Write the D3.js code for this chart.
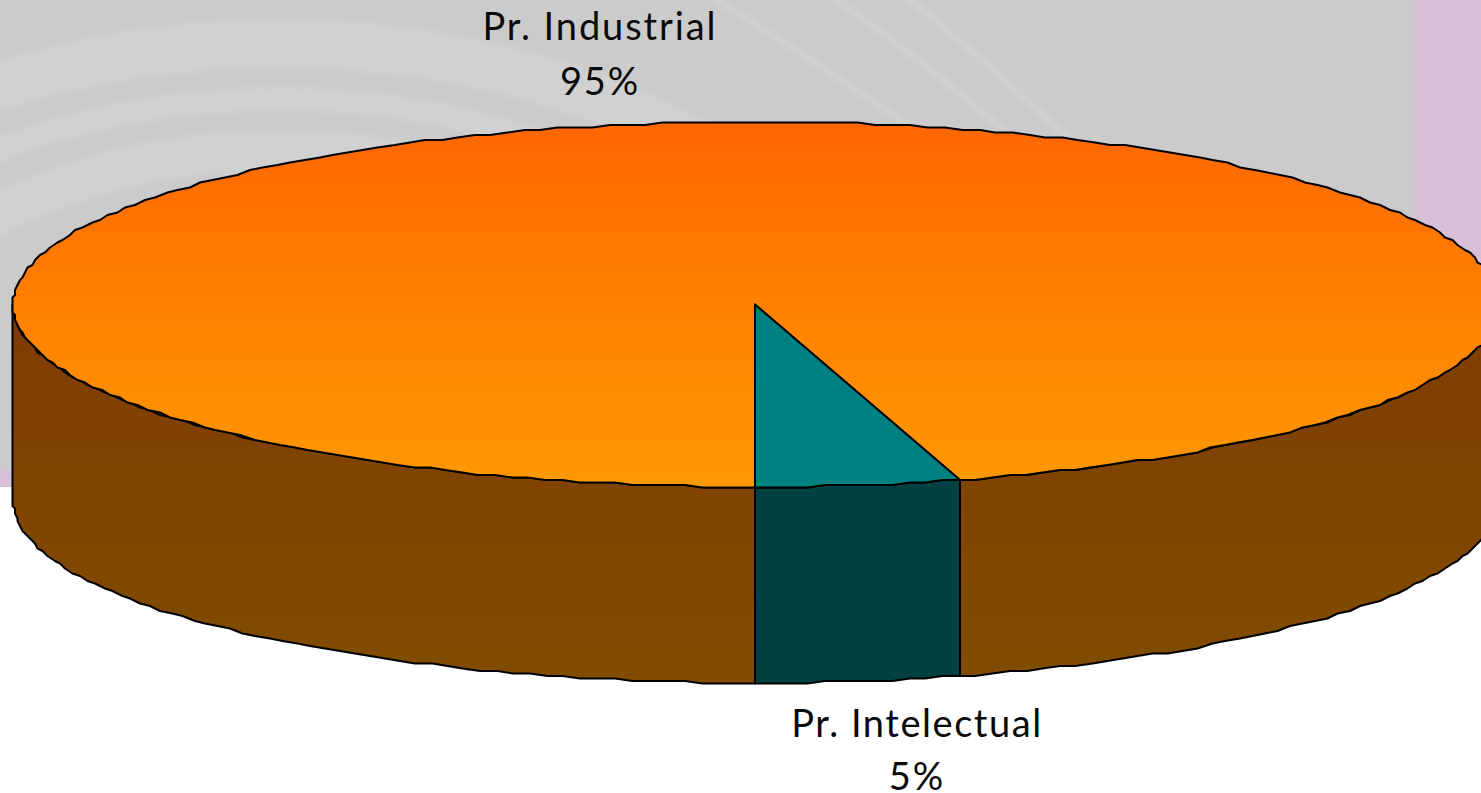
<!DOCTYPE html>
<html>
<head>
<meta charset="utf-8">
<script src="https://cdn.jsdelivr.net/npm/d3@7"></script>
<style>
  body { margin: 0; background: #fff; overflow: hidden; }
  svg { display: block; }
  text { font-family: Lato, sans-serif; font-size: 38px; fill: #0a0a0a; text-anchor: middle; letter-spacing: 1.9px; }
  text.lower { letter-spacing: 1.55px; }
</style>
</head>
<body>
<div id="chart"></div>
<script>
// chart values
let categories = ["Pr. Industrial", "Pr. Intelectual"];
let shares = [95.6, 4.4];
let shareLabels = ["95%", "5%"];

let topColors = ["url(#topOrange)", "#008080"];
let wallColors = ["url(#wallBrown)", "#004040"];

let svgWidth = 1481;
let svgHeight = 793;
let depth = 196;
let snapSize = 2.5; // the outline of the original is a rough polygon
let rimStep = 0.024;

let svg = d3.select("#chart")
  .append("svg")
  .attr("width", svgWidth)
  .attr("height", svgHeight);

let defs = svg.append("defs");

function addGradient(id, y1, y2, from, to) {
  let g = defs.append("linearGradient")
    .attr("id", id)
    .attr("gradientUnits", "userSpaceOnUse")
    .attr("x1", 0).attr("x2", 0)
    .attr("y1", y1).attr("y2", y2);
  g.append("stop").attr("offset", 0).attr("stop-color", from);
  g.append("stop").attr("offset", 1).attr("stop-color", to);
}
addGradient("topOrange", 122, 487, "#ff6600", "#ff9900");
addGradient("wallBrown", 122, 683, "#803300", "#804d00");

defs.append("filter").attr("id", "soft")
  .attr("x", "-10%").attr("y", "-10%").attr("width", "120%").attr("height", "120%")
  .append("feGaussianBlur").attr("stdDeviation", 3);
defs.append("filter").attr("id", "softEdge")
  .attr("x", "-5%").attr("y", "-5%").attr("width", "110%").attr("height", "110%")
  .append("feGaussianBlur").attr("stdDeviation", 2);
defs.append("clipPath").attr("id", "panelClip")
  .append("rect").attr("width", 1415).attr("height", 470);

// slide background behind the chart
let back = svg.append("g");
back.append("rect").attr("width", svgWidth).attr("height", 487).attr("fill", "#d8bfd8");
back.append("rect").attr("x", -20).attr("y", -20).attr("width", 1435).attr("height", 490).attr("fill", "#cbcbcb").attr("filter", "url(#softEdge)");
let swirl = back.append("g").attr("clip-path", "url(#panelClip)");
[[356, 48], [301, 23], [250, 40]].forEach(function(b) {
  swirl.append("ellipse")
    .attr("cx", 280).attr("cy", 400)
    .attr("rx", b[0] * 1.68).attr("ry", b[0])
    .attr("fill", "none")
    .attr("stroke", "#d1d1d1")
    .attr("stroke-width", b[1])
    .attr("filter", "url(#soft)");
});
["M708,-5 Q800,50 930,140", "M828,-5 Q905,45 1015,140", "M904,-5 Q985,60 1070,140"].forEach(function(d) {
  swirl.append("path")
    .attr("d", d)
    .attr("fill", "none")
    .attr("stroke", "#d2d2d2")
    .attr("stroke-width", 6)
    .attr("filter", "url(#softEdge)");
});

// unit circle to the flattened pie on screen
let xScale = d3.scaleLinear().domain([-1, 1]).range([13, 1499]);
let yScale = d3.scaleLinear().domain([-1, 1]).range([122, 487]);

let pie = d3.pie().sort(null).startAngle(Math.PI).endAngle(3 * Math.PI);
let slices = pie(shares);

let snap = v => Math.round(v / snapSize) * snapSize;
let rim = a => [snap(xScale(Math.sin(a))), snap(yScale(-Math.cos(a)))];

function rimPoints(a0, a1) {
  let n = Math.max(2, Math.ceil(Math.abs(a1 - a0) / rimStep));
  return d3.range(n + 1).map(i => rim(a0 + (a1 - a0) * i / n));
}

let line = d3.line();

// side wall, only the part of each slice on the front half shows
let frontFrom = Math.PI / 2;
let frontTo = 3 * Math.PI / 2;
let wallGroup = svg.append("g");
slices.forEach(function(s, i) {
  [-2 * Math.PI, 0, 2 * Math.PI].forEach(function(turn) {
    let a0 = Math.max(s.startAngle + turn, frontFrom);
    let a1 = Math.min(s.endAngle + turn, frontTo);
    if (a1 <= a0) return;
    let upper = rimPoints(a0, a1);
    let lower = upper.slice().reverse().map(p => [p[0], p[1] + depth]);
    wallGroup.append("path")
      .attr("d", line(upper.concat(lower)) + "Z")
      .attr("fill", wallColors[i])
      .attr("stroke", "#000")
      .attr("stroke-width", 2)
      .attr("stroke-linejoin", "round");
  });
});

// top face
let centre = [snap(xScale(0)), yScale(0)];
svg.append("g").selectAll("path")
  .data(slices)
  .enter()
  .append("path")
  .attr("d", s => line([centre].concat(rimPoints(s.startAngle, s.endAngle))) + "Z")
  .attr("fill", (s, i) => topColors[i])
  .attr("stroke", "#000")
  .attr("stroke-width", 2)
  .attr("stroke-linejoin", "round");

// labels
let labelSpots = [[600, 40, 95], [917, 737, 790]];
let labels = svg.append("g");
categories.forEach(function(name, i) {
  labels.append("text").attr("class", i ? "lower" : null).attr("x", labelSpots[i][0]).attr("y", labelSpots[i][1]).text(name);
  labels.append("text").attr("x", labelSpots[i][0]).attr("y", labelSpots[i][2]).text(shareLabels[i]);
});
</script>
</body>
</html>
